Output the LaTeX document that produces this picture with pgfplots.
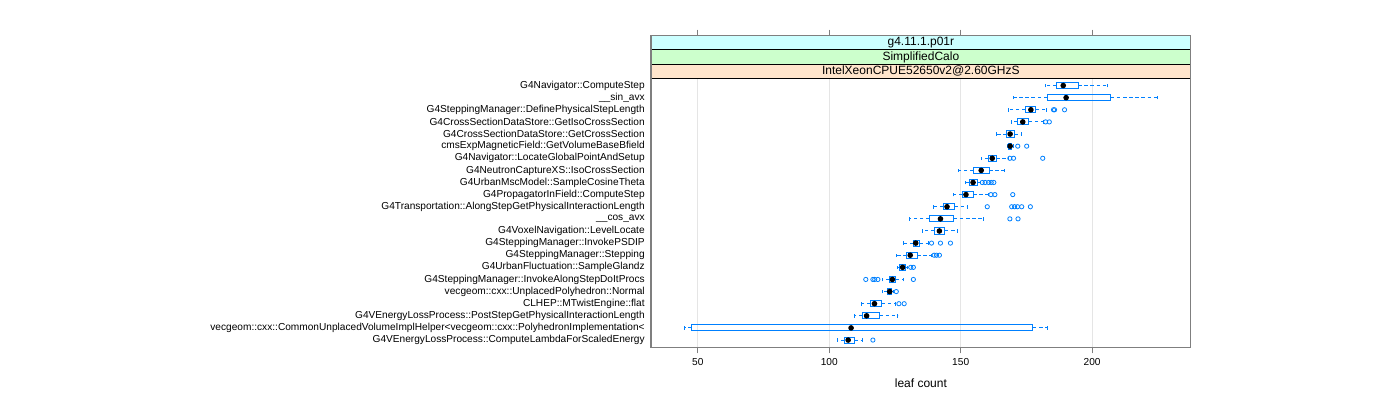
\documentclass[border=0pt]{standalone}
\usepackage{pgfplots}
\pgfplotsset{compat=1.18}
\usepgfplotslibrary{statistics}
\usepackage{fontspec}
\setmainfont{Liberation Sans}
\definecolor{bwblue}{HTML}{0080FF}
\definecolor{framegray}{HTML}{7F7F7F}
\definecolor{stripA}{HTML}{FFE5CC}
\definecolor{stripB}{HTML}{CCFFCC}
\definecolor{stripC}{HTML}{CCFFFF}

\begin{document}
\begin{tikzpicture}[font=\fontsize{7.6}{9}\selectfont]
\useasboundingbox (0,0) rectangle (1050pt,300pt);
\begin{axis}[
  at={(488.25pt,39.5pt)}, anchor=south west,
  scale only axis, width=404.8pt, height=233.7pt,
  xmin=32.2, xmax=237.5, ymin=0.4, ymax=26.11,
  xtick={50,100,150,200}, xtick pos=both, xticklabel pos=lower,
  tick align=outside, major tick length=4.5pt,
  x tick style={framegray, line width=0.75pt},
  ytick={1,...,22},
  yticklabels={G4VEnergyLossProcess::ComputeLambdaForScaledEnergy,
    vecgeom::cxx::CommonUnplacedVolumeImplHelper<vecgeom::cxx::PolyhedronImplementation<,
    G4VEnergyLossProcess::PostStepGetPhysicalInteractionLength,
    CLHEP::MTwistEngine::flat,
    vecgeom::cxx::UnplacedPolyhedron::Normal,
    G4SteppingManager::InvokeAlongStepDoItProcs,
    G4UrbanFluctuation::SampleGlandz,
    G4SteppingManager::Stepping,
    G4SteppingManager::InvokePSDIP,
    G4VoxelNavigation::LevelLocate,
    \_\_cos\_avx,
    G4Transportation::AlongStepGetPhysicalInteractionLength,
    G4PropagatorInField::ComputeStep,
    G4UrbanMscModel::SampleCosineTheta,
    G4NeutronCaptureXS::IsoCrossSection,
    G4Navigator::LocateGlobalPointAndSetup,
    cmsExpMagneticField::GetVolumeBaseBfield,
    G4CrossSectionDataStore::GetCrossSection,
    G4CrossSectionDataStore::GetIsoCrossSection,
    G4SteppingManager::DefinePhysicalStepLength,
    \_\_sin\_avx,
    G4Navigator::ComputeStep},
  y tick style={draw=none},
  yticklabel style={anchor=east, xshift=3.3pt},
  xmajorgrids, major grid style={black!10, line width=0.75pt},
  axis line style={framegray, line width=1pt},
  xlabel={leaf count},
  xlabel style={at={(axis description cs:0.5,0)}, anchor=center, yshift=-27pt, font=\fontsize{9}{10}\selectfont},
  /pgf/number format/assume math mode=true,
  clip=false,
  boxplot/draw direction=x,
  boxplot/box extend=0.5,
  boxplot/whisker extend=0.3,
  boxplot/every whisker/.style={bwblue, dash pattern=on 2.6pt off 2pt},
  boxplot/every box/.style={bwblue, solid},
  boxplot/draw/median/.code={\fill[black] (boxplot box cs:\pgfplotsboxplotvalue{median},0.5) circle[radius=1.7pt];},
  bw/.style={color=bwblue, draw=bwblue, line width=0.75pt, solid, mark=o, mark size=1.6pt,
    mark options={draw=bwblue, solid, line width=0.6pt}},
]
% 22 G4Navigator::ComputeStep
\addplot[bw, boxplot prepared={draw position=22, lower whisker=182.3, lower quartile=186.4, median=189.0, upper quartile=194.7, upper whisker=205.8}] coordinates {};
% 21 __sin_avx
\addplot[bw, boxplot prepared={draw position=21, lower whisker=170.1, lower quartile=182.9, median=190.1, upper quartile=207.1, upper whisker=224.9}] coordinates {};
% 20 DefinePhysicalStepLength
\addplot[bw, boxplot prepared={draw position=20, lower whisker=168.0, lower quartile=174.6, median=176.7, upper quartile=178.6, upper whisker=182.7}] table[row sep=\\, y index=0] {v\\ 185.3\\ 185.7\\ 189.5\\};
% 19 GetIsoCrossSection
\addplot[bw, boxplot prepared={draw position=19, lower whisker=169.5, lower quartile=171.7, median=173.6, upper quartile=175.9, upper whisker=181.4}] table[row sep=\\, y index=0] {v\\ 182.3\\ 183.7\\};
% 18 GetCrossSection
\addplot[bw, boxplot prepared={draw position=18, lower whisker=163.7, lower quartile=167.5, median=168.8, upper quartile=170.5, upper whisker=173.3}] coordinates {};
% 17 cmsExpMagneticField
\addplot[bw, boxplot prepared={draw position=17, lower whisker=167.8, lower quartile=168.2, median=168.8, upper quartile=169.5, upper whisker=170.0}] table[row sep=\\, y index=0] {v\\ 171.7\\ 175.1\\};
% 16 LocateGlobalPointAndSetup
\addplot[bw, boxplot prepared={draw position=16, lower whisker=157.8, lower quartile=160.6, median=162.0, upper quartile=163.5, upper whisker=168.0}] table[row sep=\\, y index=0] {v\\ 168.7\\ 170.1\\ 181.2\\};
% 15 G4NeutronCaptureXS
\addplot[bw, boxplot prepared={draw position=15, lower whisker=149.0, lower quartile=154.8, median=157.8, upper quartile=160.8, upper whisker=166.7}] coordinates {};
% 14 UrbanMsc
\addplot[bw, boxplot prepared={draw position=14, lower whisker=151.7, lower quartile=153.3, median=154.7, upper quartile=156.5, upper whisker=157.4}] table[row sep=\\, y index=0] {v\\ 158.2\\ 159.3\\ 160.6\\ 161.6\\ 162.6\\};
% 13 PropagatorInField
\addplot[bw, boxplot prepared={draw position=13, lower whisker=147.1, lower quartile=150.6, median=152.0, upper quartile=154.7, upper whisker=160.6}] table[row sep=\\, y index=0] {v\\ 161.5\\ 163.0\\ 169.8\\};
% 12 Transportation
\addplot[bw, boxplot prepared={draw position=12, lower whisker=139.7, lower quartile=143.3, median=144.8, upper quartile=147.6, upper whisker=152.5}] table[row sep=\\, y index=0] {v\\ 160.1\\ 169.4\\ 170.5\\ 171.6\\ 173.2\\ 176.5\\};
% 11 __cos_avx
\addplot[bw, boxplot prepared={draw position=11, lower whisker=130.6, lower quartile=138.1, median=142.3, upper quartile=147.4, upper whisker=158.8}] table[row sep=\\, y index=0] {v\\ 168.7\\ 171.8\\};
% 10 LevelLocate
\addplot[bw, boxplot prepared={draw position=10, lower whisker=135.4, lower quartile=139.9, median=141.9, upper quartile=144.0, upper whisker=148.7}] coordinates {};
% 9 InvokePSDIP
\addplot[bw, boxplot prepared={draw position=9, lower whisker=128.2, lower quartile=131.9, median=132.9, upper quartile=134.3, upper whisker=137.8}] table[row sep=\\, y index=0] {v\\ 138.9\\ 142.3\\ 146.1\\};
% 8 Stepping
\addplot[bw, boxplot prepared={draw position=8, lower whisker=125.6, lower quartile=129.5, median=130.8, upper quartile=133.4, upper whisker=138.8}] table[row sep=\\, y index=0] {v\\ 139.9\\ 140.8\\ 141.9\\};
% 7 SampleGlandz
\addplot[bw, boxplot prepared={draw position=7, lower whisker=125.9, lower quartile=126.8, median=127.9, upper quartile=128.9, upper whisker=129.7}] table[row sep=\\, y index=0] {v\\ 131.0\\ 132.0\\};
% 6 InvokeAlongStepDoItProcs
\addplot[bw, boxplot prepared={draw position=6, lower whisker=120.2, lower quartile=122.9, median=124.0, upper quartile=125.3, upper whisker=128.2}] table[row sep=\\, y index=0] {v\\ 113.9\\ 116.6\\ 117.3\\ 118.5\\ 132.0\\};
% 5 UnplacedPolyhedron::Normal
\addplot[bw, boxplot prepared={draw position=5, lower whisker=120.4, lower quartile=122.1, median=123.0, upper quartile=123.8, upper whisker=124.5}] table[row sep=\\, y index=0] {v\\ 125.5\\};
% 4 MTwistEngine::flat
\addplot[bw, boxplot prepared={draw position=4, lower whisker=112.3, lower quartile=115.7, median=117.2, upper quartile=120.0, upper whisker=125.2}] table[row sep=\\, y index=0] {v\\ 126.5\\ 128.5\\};
% 3 PostStepGetPhysicalInteractionLength
\addplot[bw, boxplot prepared={draw position=3, lower whisker=109.6, lower quartile=112.6, median=114.2, upper quartile=119.1, upper whisker=126.1}] coordinates {};
% 2 vecgeom CommonUnplacedVolumeImplHelper
\addplot[bw, boxplot prepared={draw position=2, lower whisker=44.8, lower quartile=47.7, median=108.3, upper quartile=177.5, upper whisker=183.0}] coordinates {};
% 1 ComputeLambdaForScaledEnergy
\addplot[bw, boxplot prepared={draw position=1, lower whisker=103.0, lower quartile=105.8, median=107.2, upper quartile=109.6, upper whisker=112.8}] table[row sep=\\, y index=0] {v\\ 116.6\\};
% strips
\fill[stripA] (axis cs:32.2,22.6) rectangle (axis cs:237.5,23.77);
\fill[stripB] (axis cs:32.2,23.77) rectangle (axis cs:237.5,24.94);
\fill[stripC] (axis cs:32.2,24.94) rectangle (axis cs:237.5,26.11);
\draw[black, line width=0.75pt] (axis cs:32.2,22.6) -- (axis cs:237.5,22.6)
  (axis cs:32.2,23.77) -- (axis cs:237.5,23.77)
  (axis cs:32.2,24.94) -- (axis cs:237.5,24.94);
\node[font=\fontsize{9}{10}\selectfont] at (axis cs:134.85,23.185) {IntelXeonCPUE52650v2@2.60GHzS};
\node[font=\fontsize{9}{10}\selectfont] at (axis cs:134.85,24.355) {SimplifiedCalo};
\node[font=\fontsize{9}{10}\selectfont] at (axis cs:134.85,25.525) {g4.11.1.p01r};
\draw[framegray, line width=1pt] (rel axis cs:0,0) rectangle (rel axis cs:1,1);
\end{axis}
\end{tikzpicture}
\end{document}
